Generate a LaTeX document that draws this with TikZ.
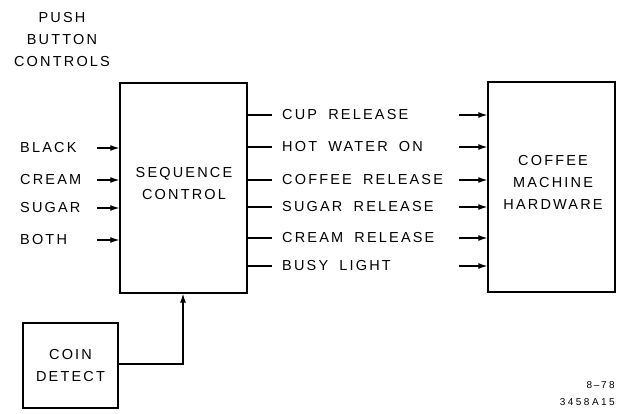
\documentclass[tikz,border=0pt]{standalone}
\usepackage{fontspec}
\setmainfont[LetterSpace=15,WordSpace=1.8]{Liberation Sans}
\newfontfamily\smallnum[LetterSpace=25]{Liberation Sans}
\usetikzlibrary{arrows.meta}
\begin{document}
\begin{tikzpicture}[x=1pt,y=-1pt,
  blk/.style={draw,line width=1.4pt,inner sep=0pt},
  lbl/.style={font=\fontsize{14.5}{22}\selectfont,inner sep=0pt},
  wire/.style={line width=1.1pt},
  arr/.style={line width=1.1pt,-{Latex[length=9pt,width=6pt]}}]
\useasboundingbox (0,0) rectangle (620,414);
% boxes
\node[blk,minimum width=127pt,minimum height=210pt] (seq) at (183.5,188) {};
\node[lbl,align=center] (seqt) at (184,184) {SEQUENCE\\CONTROL};
\node[blk,minimum width=127pt,minimum height=210pt] (hw) at (551.5,187) {};
\node[lbl,align=center] (hwt) at (553,182) {COFFEE\\MACHINE\\HARDWARE};
\node[blk,minimum width=95pt,minimum height=85pt] (coin) at (70.5,365.5) {};
\node[lbl,align=center] (coint) at (70.5,366) {COIN\\DETECT};
% title
\node[lbl,align=center] (pbc) at (62,40) {PUSH\\BUTTON\\CONTROLS};
% inputs
\foreach \t/\y/\n in {BLACK/148/a,CREAM/180/b,SUGAR/208/c,BOTH/240/d}{
  \node[lbl,anchor=west] (in\n) at (20,\y) {\t};
  \coordinate (s\n) at (97,\y);
  \draw[arr] (s\n) -- (seq.west |- s\n);
}
% outputs
\foreach \t/\y/\n in {CUP RELEASE/115/a,HOT WATER ON/147/b,COFFEE RELEASE/180/c,SUGAR RELEASE/207/d,CREAM RELEASE/238/e,BUSY LIGHT/266/f}{
  \coordinate (o\n) at (272,\y);
  \draw[wire] (seq.east |- o\n) -- (o\n);
  \node[lbl,anchor=west] (out\n) at (282,\y) {\t};
  \coordinate (h\n) at (459,\y);
  \draw[arr] (h\n) -- (hw.west |- h\n);
}
% coin to sequence
\coordinate (cc) at (183,364);
\draw[arr] (coin.east |- cc) -- (cc) -- (seq.south -| cc);
% ref numbers
\node[font=\smallnum\fontsize{10}{12}\selectfont,anchor=east,inner sep=0pt] (r1) at (615,385) {8\,\textendash\,78};
\node[font=\smallnum\fontsize{10}{12}\selectfont,anchor=east,inner sep=0pt] (r2) at (615,402) {3458A15};
\end{tikzpicture}
\end{document}
